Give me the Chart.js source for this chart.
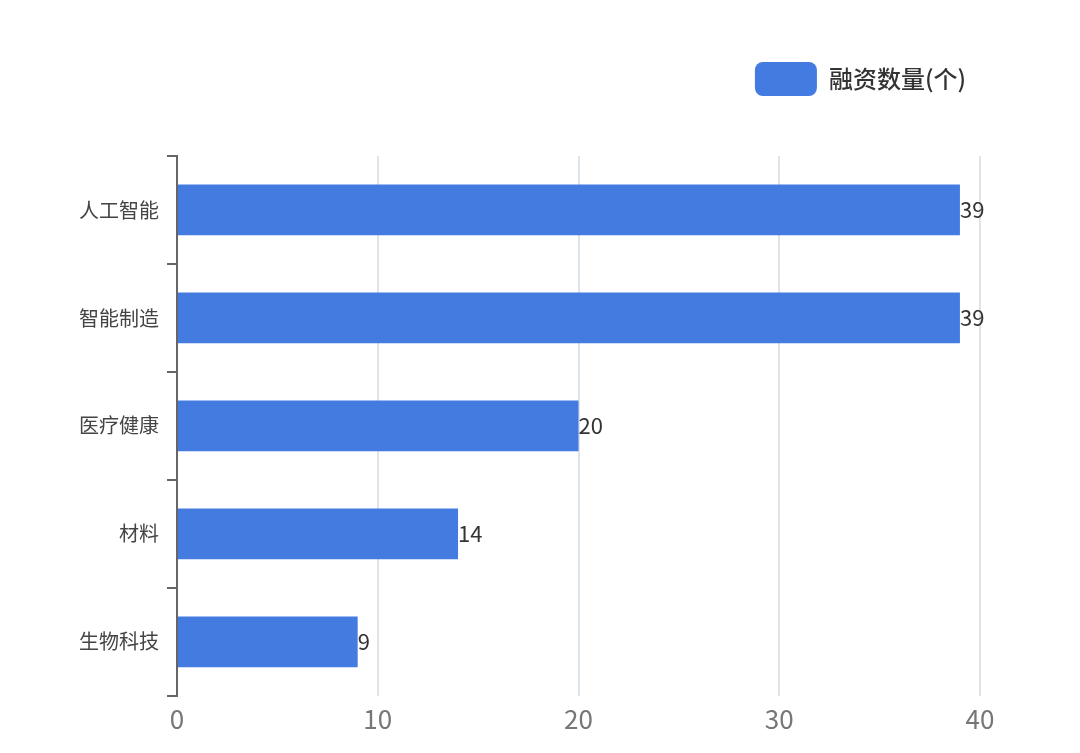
<!DOCTYPE html>
<html lang="zh">
<head>
<meta charset="UTF-8">
<script src="https://cdn.jsdelivr.net/npm/chart.js"></script>
<style>
  html, body { margin: 0; background: #fff; }
</style>
</head>
<body>
<canvas id="chart" width="1080" height="753"></canvas>
<script>
const categories = ['人工智能', '智能制造', '医疗健康', '材料', '生物科技'];
const counts = [39, 39, 20, 14, 9];
const xTicks = [0, 10, 20, 30, 40];

const font = '"Noto Sans CJK SC", "Noto Sans", sans-serif';

// valeurs au bout des barres
const valueLabels = {
    id: 'valueLabels',
    afterDatasetsDraw(chart) {
        const ctx = chart.ctx;
        const meta = chart.getDatasetMeta(0);
        ctx.save();
        ctx.font = '22px ' + font;
        ctx.fillStyle = '#333';
        ctx.textBaseline = 'middle';
        meta.data.forEach((bar, i) => {
            ctx.fillText(String(counts[i]), bar.x, bar.y);
        });
        ctx.restore();
    }
};

// espace sous la légende
const legendGap = {
    id: 'legendGap',
    beforeLayout(chart) {
        const lg = chart.legend;
        if (lg && !lg._patched) {
            const fit = lg.fit;
            lg.fit = function () { fit.call(this); this.height += 50; };
            lg._patched = true;
        }
    }
};

new Chart(document.getElementById('chart'), {
    type: 'bar',
    data: {
        labels: categories,
        datasets: [{
            label: '融资数量(个)',
            data: counts,
            backgroundColor: '#447be1',
            barPercentage: 0.47,
            categoryPercentage: 1
        }]
    },
    options: {
        indexAxis: 'y',
        responsive: false,
        animation: false,
        layout: { padding: { left: 0, right: 100, top: 48, bottom: 10 } },
        plugins: {
            tooltip: { enabled: false },
            legend: {
                align: 'end',
                labels: {
                    boxWidth: 62, boxHeight: 34, useBorderRadius: true, borderRadius: 8,
                    color: '#333', font: { family: font, size: 24, weight: '500' }, padding: 14
                }
            }
        },
        scales: {
            x: {
                min: 0, max: 40,
                afterBuildTicks(s) { s.ticks = xTicks.map(v => ({ value: v })); },
                grid: { color: '#dde5ea', lineWidth: 2, drawTicks: false },
                border: { display: false },
                ticks: { color: '#777', font: { family: font, size: 26 }, padding: 8 }
            },
            y: {
                afterFit(s) { s.width = 177; },
                grid: { offset: true, drawOnChartArea: false, color: '#666', lineWidth: 2, tickLength: 10 },
                border: { color: '#666', width: 2 },
                ticks: { color: '#444', font: { family: font, size: 20 }, padding: 8 }
            }
        }
    },
    plugins: [valueLabels, legendGap]
});
</script>
</body>
</html>
